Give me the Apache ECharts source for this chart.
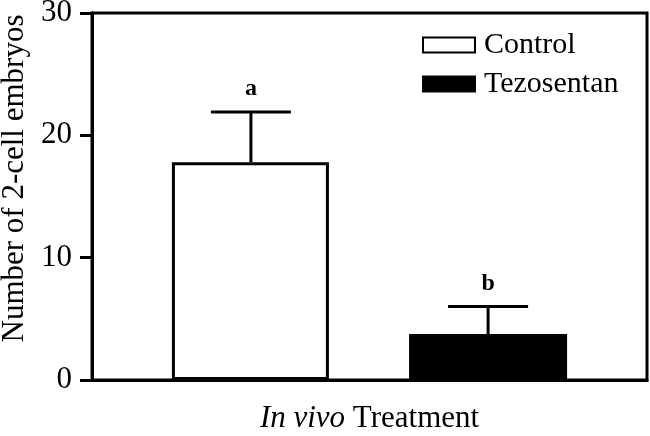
<!DOCTYPE html>
<html>
<head>
<meta charset="utf-8">
<script src="https://cdn.jsdelivr.net/npm/echarts@6/dist/echarts.min.js"></script>
<style>html,body{margin:0;padding:0;background:#fff;}#c{width:650px;height:436px;}</style>
</head>
<body>
<div id="c"></div>
<script>
var categories = ['Control', 'Tezosentan'];
var positions = [1, 2];
var means = [17.8, 3.76];
var errTops = [21.9, 6.0];
var letters = ['a', 'b'];
var yTicks = [0, 10, 20, 30];

var FONT = '"Liberation Serif", "Times New Roman", serif';
var chart = echarts.init(document.getElementById('c'));

var errData = positions.map(function (p, i) { return [p, means[i], errTops[i]]; });

chart.setOption({
  animation: false,
  backgroundColor: '#fff',
  grid: { left: 92, right: 3, top: 13, bottom: 56, outerBoundsMode: 'none', containLabel: false, show: true, borderColor: '#000', borderWidth: 3, backgroundColor: 'transparent' },
  legend: {
    orient: 'vertical', left: 417, top: 25,
    icon: 'rect',
    itemWidth: 52, itemHeight: 15, itemGap: 9,
    data: categories,
    textStyle: { fontFamily: FONT, fontSize: 30, color: '#000', padding: [0, 0, 0, 4] }
  },
  xAxis: {
    type: 'value', min: 0.33, max: 2.67,
    name: '{i|In vivo} Treatment', nameLocation: 'middle', nameGap: 23,
    nameTextStyle: {
      fontFamily: FONT, fontSize: 31, color: '#000',
      rich: { i: { fontFamily: FONT, fontSize: 31, fontStyle: 'italic', color: '#000' } }
    },
    axisLine: { show: true, lineStyle: { color: '#000', width: 3 } },
    axisTick: { show: false }, axisLabel: { show: false }, splitLine: { show: false }
  },
  yAxis: {
    type: 'value', min: yTicks[0], max: yTicks[yTicks.length - 1], interval: 10,
    name: 'Number of 2-cell embryos', nameLocation: 'middle', nameGap: 59, nameRotate: 90,
    nameTextStyle: { fontFamily: FONT, fontSize: 31, color: '#000', padding: [0, 0, 0, 36] },
    axisLine: { show: true, lineStyle: { color: '#000', width: 3 } },
    axisTick: { show: true, length: 12, lineStyle: { color: '#000', width: 3 } },
    axisLabel: { fontFamily: FONT, fontSize: 31, color: '#000', margin: 20 },
    splitLine: { show: false }
  },
  series: [
    {
      name: categories[0], type: 'bar', barWidth: 157, barGap: '-100%',
      data: [[positions[0], means[0]]],
      itemStyle: { color: '#fff', borderColor: '#000', borderWidth: 3 }
    },
    {
      name: categories[1], type: 'bar', barWidth: 158, barGap: '-100%',
      data: [[positions[1], means[1]]],
      itemStyle: { color: '#000', borderColor: '#000', borderWidth: 2 }
    },
    {
      type: 'custom', z: 5,
      data: errData,
      renderItem: function (params, api) {
        var x = api.value(0), m = api.value(1), t = api.value(2);
        var pm = api.coord([x, m]), pt = api.coord([x, t]);
        var half = 40;
        return {
          type: 'group', children: [
            { type: 'line', shape: { x1: pm[0], y1: pm[1], x2: pt[0], y2: pt[1] }, style: { stroke: '#000', lineWidth: 3 } },
            { type: 'line', shape: { x1: pt[0] - half, y1: pt[1], x2: pt[0] + half, y2: pt[1] }, style: { stroke: '#000', lineWidth: 3 } },
            { type: 'text', x: pt[0], y: pt[1] - 23, style: { text: letters[params.dataIndex], fontFamily: FONT, fontWeight: 'bold', fontSize: 24, fill: '#000', align: 'center', verticalAlign: 'middle' } }
          ]
        };
      }
    }
  ]
});
</script>
</body>
</html>
